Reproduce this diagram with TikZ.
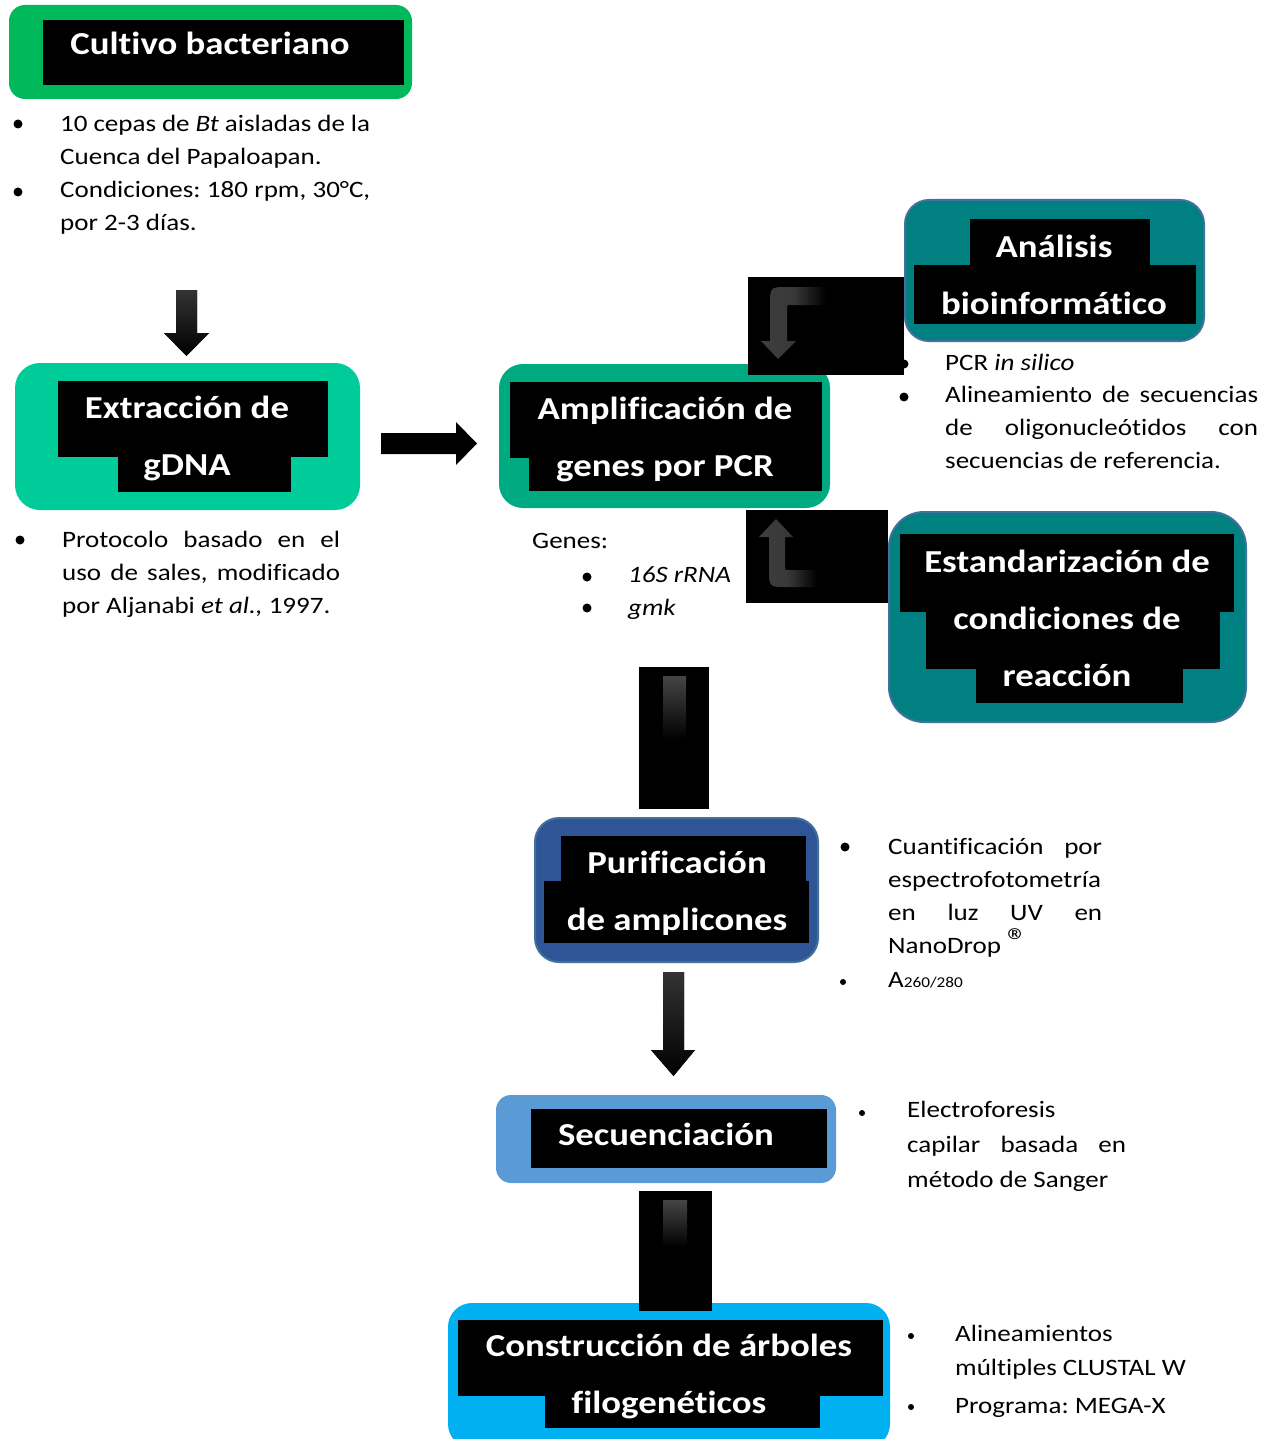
\documentclass[tikz,border=0pt]{standalone}
\usepackage{fontspec}
\setmainfont{Carlito}[FakeStretch=1.15, Ligatures=NoCommon]
\frenchspacing

\definecolor{verdeCultivo}{RGB}{0,185,90}
\definecolor{verdeExtr}{RGB}{0,204,153}
\definecolor{verdeAmpl}{RGB}{0,170,128}
\definecolor{petroleo}{RGB}{0,128,128}
\definecolor{bordeAzul}{RGB}{65,113,156}
\definecolor{azulOscuro}{RGB}{47,85,151}
\definecolor{azulMedio}{RGB}{91,155,213}
\definecolor{celeste}{RGB}{0,176,240}

\begin{document}
\begin{tikzpicture}[x=1pt, y=-1pt,
    caja/.style={inner sep=0pt, rounded corners=#1},
    caja/.default=24pt,
    titulo/.style={text=white, font=\fontsize{32}{57}\selectfont\bfseries, align=center, anchor=base, inner sep=0pt},
    nota/.style={font=\fontsize{23.5}{33}\selectfont, align=left, anchor=base west, inner sep=0pt},
    flecha/.style={top color=black!80, bottom color=black},
    curva/.style={left color=black!76, right color=black, middle color=black!78}
  ]
  \useasboundingbox (0,0) rectangle (1272,1439);
  % (multi-line nodes sit on their last baseline)

  % Cultivo
  \node[caja=16pt, fill=verdeCultivo, minimum width=403, minimum height=94] (cultivo) at (210.5,52) {};
  \fill (43,20) rectangle (404,85);
  \node[titulo] (t-cultivo) at (210,55) {Cultivo bacteriano};
  \fill (18,124) circle (4.5);
  \fill (18,192) circle (4.5);
  \node[nota] (n-cepas) at (60,165) {\makebox[310pt][s]{10 cepas de \textit{Bt} aisladas de la}\\ Cuenca del Papaloapan.};
  \node[nota] (n-cond) at (60,231) {\makebox[310pt][s]{Condiciones: 180 rpm, 30°C,}\\ por 2-3 días.};
  \fill[flecha] (176,290) -- (197,290) -- (197,333) -- (209,333) -- (186.5,356) -- (164,333) -- (176,333) -- cycle;

  % Extraccion
  \node[caja=25pt, fill=verdeExtr, minimum width=345, minimum height=147] (extraccion) at (187.5,436.5) {};
  \fill (58,381) rectangle (328,457);
  \fill (118,457) rectangle (291,492);
  \node[titulo] (t-extraccion) at (187,475) {Extracción de\\ gDNA};
  \fill (20,540) circle (4.5);
  \node[nota] (n-protocolo) at (62,613) {\makebox[278pt][s]{Protocolo basado en el}\\ \makebox[278pt][s]{uso de sales, modificado}\\ por Aljanabi \textit{et al.,} 1997.};
  \fill (381,433) -- (456,433) -- (456,422) -- (477,443.5) -- (456,465) -- (456,454) -- (381,454) -- cycle;

  % Amplificacion
  \node[caja, fill=verdeAmpl, minimum width=331, minimum height=144] (amplificacion) at (664.5,436) {};
  \fill (510,382) rectangle (822,458);
  \fill (529,458) rectangle (822,491);
  \node[titulo] (t-amplificacion) at (665,476) {Amplificación de\\ genes por PCR};
  \node[nota] (n-genes) at (532,548) {Genes:};
  \fill (587,577) circle (4.5);
  \fill (587,608) circle (4.5);
  \node[nota] (n-16s) at (628,582) {\textit{16S rRNA}};
  \node[nota] (n-gmk) at (628,615) {\textit{gmk}};

  % Analisis
  \node[caja, fill=petroleo, draw=bordeAzul, line width=2pt, minimum width=299, minimum height=141] (analisis) at (1054.5,270.5) {};
  \fill (970,219) rectangle (1150,265);
  \fill (914,265) rectangle (1196,324);
  \node[titulo] (t-analisis) at (1054,314) {Análisis\\ bioinformático};
  \fill (904,364) circle (4.5);
  \fill (904,397) circle (4.5);
  \node[nota] (n-silico) at (945,370) {PCR \textit{in silico}};
  \node[nota] (n-alineamiento) at (945,468) {\makebox[313pt][s]{Alineamiento de secuencias}\\ \makebox[313pt][s]{de oligonucleótidos con}\\ secuencias de referencia.};

  % Estandarizacion
  \node[caja=35pt, fill=petroleo, draw=bordeAzul, line width=2pt, minimum width=357, minimum height=210] (estandarizacion) at (1067.5,617) {};
  \fill (900,534) rectangle (1234,612);
  \fill (926,612) rectangle (1220,669);
  \fill (976,669) rectangle (1183,703);
  \node[titulo] (t-estandarizacion) at (1067,686) {Estandarización de\\ condiciones de\\ reacción};

  % flechas curvas
  \fill (748,277) rectangle (904,375);
  \fill[curva] (826,287) -- (788,287) .. controls (770,287) .. (770,305) -- (770,341) -- (761,341) -- (778,359) -- (796,341) -- (787,341) -- (787,309) .. controls (787,305) .. (791,305) -- (826,305) -- cycle;
  \fill (746,510) rectangle (888,603);
  \fill[curva] (776,519) -- (793,537) -- (785,537) -- (785,566) .. controls (785,570) .. (789,570) -- (817,570) -- (817,587) -- (787,587) .. controls (769,587) .. (769,569) -- (769,537) -- (759,537) -- cycle;

  \fill (639,667) rectangle (709,809);
  \fill[top color=black!73, bottom color=black] (663,676) rectangle (686,740);

  % Purificacion
  \node[caja, fill=azulOscuro, draw=bordeAzul, line width=2pt, minimum width=283, minimum height=144] (purificacion) at (676.5,890) {};
  \fill (561,836) rectangle (806,881);
  \fill (544,881) rectangle (809,943);
  \node[titulo] (t-purificacion) at (677,930) {Purificación\\ de amplicones};
  \fill (845,847) circle (4.5);
  \fill (843,982) circle (3);
  \node[nota] (n-cuantificacion) at (888,953) {\makebox[214pt][s]{Cuantificación por}\\ espectrofotometría\\ \makebox[214pt][s]{en luz UV en}\\ NanoDrop {\fontsize{36}{36}\selectfont ®}};
  \node[nota] (n-absorbancia) at (888,987) {A{\fontsize{15}{15}\selectfont 260/280}};
  \fill[flecha] (663,972) -- (684,972) -- (684,1050) -- (695,1050) -- (673.5,1076) -- (651,1050) -- (663,1050) -- cycle;

  % Secuenciacion
  \node[caja=15pt, fill=azulMedio, minimum width=340, minimum height=88] (secuenciacion) at (666,1139) {};
  \fill (531,1109) rectangle (827,1168);
  \node[titulo] (t-secuenciacion) at (666,1145) {Secuenciación};
  \fill (862,1113) circle (3);
  \node[nota, font=\fontsize{23.5}{35}\selectfont] (n-electroforesis) at (907,1187) {Electroforesis\\ \makebox[219pt][s]{capilar basada en}\\ método de Sanger};

  % Construccion
  \node[caja, fill=celeste, minimum width=442, minimum height=145] (construccion) at (669,1375.5) {};
  \fill (458,1320) rectangle (883,1396);
  \fill (545,1396) rectangle (820,1428);
  \node[titulo] (t-construccion) at (669,1413) {Construcción de árboles\\ filogenéticos};
  \fill (639,1191) rectangle (712,1311);
  \fill[top color=black!73, bottom color=black] (663,1200) rectangle (687,1247);
  \fill (911,1336) circle (3);
  \fill (911,1407) circle (3);
  \node[nota, font=\fontsize{23.5}{34}\selectfont] (n-clustal) at (955,1375) {Alineamientos\\ múltiples CLUSTAL W};
  \node[nota] (n-mega) at (955,1413) {Programa: MEGA-X};
\end{tikzpicture}
\end{document}
